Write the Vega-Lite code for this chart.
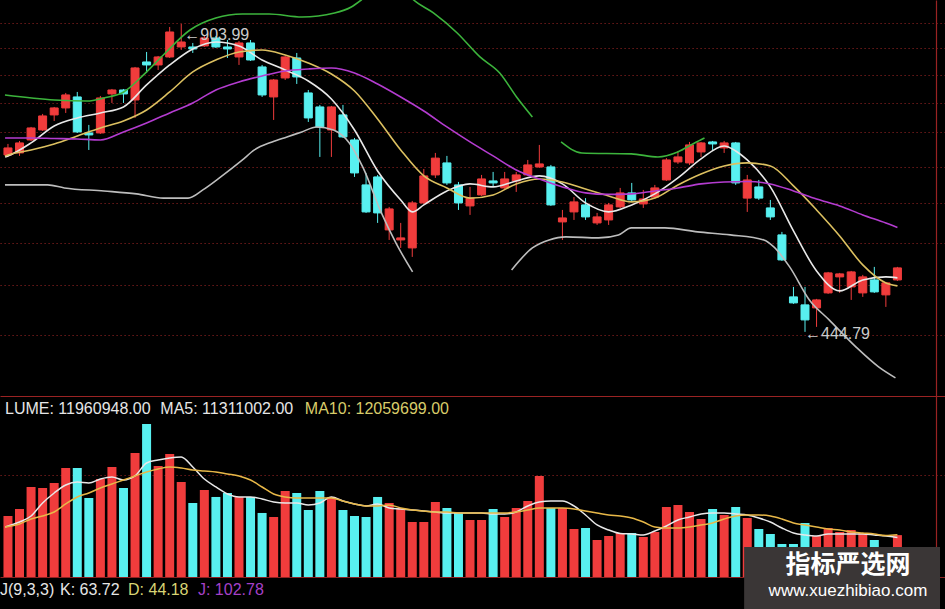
{
  "$schema": "https://vega.github.io/schema/vega-lite/v6.json",
  "background": "#000000",
  "padding": 0,
  "spacing": 0,
  "bounds": "flush",
  "config": {
    "view": {"stroke": null},
    "axis": {"labels": false, "ticks": false, "domain": false, "grid": false, "titleColor": "#000000", "titleFontSize": 1},
    "text": {"font": "Liberation Sans"}
  },
  "resolve": {"scale": {"x": "independent", "y": "independent", "color": "independent"}},
  "datasets": {
    "k": [
      {"i":0,"o":668.55,"h":685.69,"l":665.47,"c":679.39,"v":17430000},
      {"i":1,"o":671.62,"h":690.42,"l":667.01,"c":687.27,"v":19430000},
      {"i":2,"o":691.99,"h":713.06,"l":690.42,"c":711.41,"v":25710000},
      {"i":3,"o":708.11,"h":734.73,"l":706.5,"c":731.35,"v":25430000},
      {"i":4,"o":733.04,"h":746.66,"l":722.95,"c":744.93,"v":26860000},
      {"i":5,"o":744.93,"h":771.12,"l":736.42,"c":767.59,"v":31140000},
      {"i":6,"o":764.05,"h":772.89,"l":703.27,"c":704.89,"v":31140000},
      {"i":7,"o":703.27,"h":716.36,"l":676.24,"c":700.05,"v":22570000},
      {"i":8,"o":703.27,"h":765.82,"l":701.66,"c":762.28,"v":28000000},
      {"i":9,"o":769.35,"h":778.23,"l":753.57,"c":776.42,"v":31430000},
      {"i":10,"o":776.42,"h":778.23,"l":753.57,"c":769.35,"v":25430000},
      {"i":11,"o":758.75,"h":818.7,"l":727.98,"c":816.8,"v":35430000},
      {"i":12,"o":828.16,"h":847.45,"l":807.46,"c":822.48,"v":43710000},
      {"i":13,"o":822.48,"h":839.7,"l":813.01,"c":837.76,"v":31710000},
      {"i":14,"o":837.76,"h":897.68,"l":835.83,"c":887.39,"v":35140000},
      {"i":15,"o":857.28,"h":903.99,"l":851.33,"c":867.19,"v":27140000},
      {"i":16,"o":857.28,"h":865.21,"l":845.52,"c":853.31,"v":21140000},
      {"i":17,"o":859.26,"h":879.27,"l":857.28,"c":875.22,"v":24860000},
      {"i":18,"o":875.22,"h":879.27,"l":855.29,"c":857.28,"v":22860000},
      {"i":19,"o":857.28,"h":871.16,"l":835.83,"c":853.31,"v":24000000},
      {"i":20,"o":837.76,"h":869.18,"l":822.48,"c":865.21,"v":22860000},
      {"i":21,"o":865.21,"h":871.16,"l":830.06,"c":831.95,"v":22860000},
      {"i":22,"o":818.7,"h":822.48,"l":764.05,"c":767.59,"v":18290000},
      {"i":23,"o":764.05,"h":796.36,"l":724.6,"c":794.51,"v":17140000},
      {"i":24,"o":798.21,"h":839.7,"l":794.51,"c":837.76,"v":24570000},
      {"i":25,"o":835.83,"h":845.52,"l":787.27,"c":800.06,"v":24000000},
      {"i":26,"o":771.12,"h":776.42,"l":721.3,"c":727.98,"v":19140000},
      {"i":27,"o":746.66,"h":750.11,"l":665.47,"c":713.06,"v":24570000},
      {"i":28,"o":708.11,"h":748.39,"l":665.47,"c":746.66,"v":22860000},
      {"i":29,"o":733.04,"h":750.11,"l":695.21,"c":696.83,"v":19140000},
      {"i":30,"o":691.99,"h":695.21,"l":635.51,"c":641.39,"v":17430000},
      {"i":31,"o":623.92,"h":641.39,"l":584.96,"c":586.3,"v":17140000},
      {"i":32,"o":635.51,"h":638.45,"l":571.64,"c":584.96,"v":22860000},
      {"i":33,"o":562.47,"h":593.1,"l":549.67,"c":590.35,"v":21140000},
      {"i":34,"o":549.67,"h":571.64,"l":539.66,"c":552.23,"v":19710000},
      {"i":35,"o":539.66,"h":601.33,"l":528.6,"c":598.58,"v":15710000},
      {"i":36,"o":598.58,"h":647.31,"l":597.21,"c":636.98,"v":15710000},
      {"i":37,"o":638.45,"h":671.62,"l":634.04,"c":663.64,"v":21430000},
      {"i":38,"o":656.34,"h":667.01,"l":623.92,"c":626.79,"v":19710000},
      {"i":39,"o":623.92,"h":628.23,"l":588.98,"c":598.58,"v":18290000},
      {"i":40,"o":594.47,"h":621.05,"l":582.27,"c":605.25,"v":16290000},
      {"i":41,"o":609.72,"h":638.45,"l":608.32,"c":632.57,"v":16290000},
      {"i":42,"o":629.66,"h":642.86,"l":621.05,"c":626.79,"v":19430000},
      {"i":43,"o":619.61,"h":642.86,"l":618.17,"c":632.57,"v":17140000},
      {"i":44,"o":629.66,"h":642.86,"l":613.93,"c":638.45,"v":19710000},
      {"i":45,"o":638.45,"h":660.85,"l":636.98,"c":653.32,"v":21710000},
      {"i":46,"o":650.32,"h":684.12,"l":648.81,"c":654.83,"v":28860000},
      {"i":47,"o":650.32,"h":653.32,"l":594.47,"c":595.84,"v":19710000},
      {"i":48,"o":572.95,"h":588.98,"l":549.67,"c":578.25,"v":19710000},
      {"i":49,"o":586.3,"h":606.67,"l":575.57,"c":599.96,"v":13710000},
      {"i":50,"o":595.84,"h":605.25,"l":575.57,"c":579.59,"v":14000000},
      {"i":51,"o":571.64,"h":584.96,"l":569.02,"c":579.59,"v":10570000},
      {"i":52,"o":575.57,"h":598.58,"l":569.02,"c":595.84,"v":11710000},
      {"i":53,"o":593.1,"h":619.61,"l":591.72,"c":612.53,"v":12570000},
      {"i":54,"o":612.53,"h":626.79,"l":599.96,"c":602.7,"v":12570000},
      {"i":55,"o":597.21,"h":616.74,"l":591.72,"c":604.08,"v":11430000},
      {"i":56,"o":606.67,"h":623.92,"l":604.08,"c":619.61,"v":12860000},
      {"i":57,"o":631.1,"h":663.64,"l":629.66,"c":660.85,"v":20000000},
      {"i":58,"o":657.84,"h":674.7,"l":654.83,"c":665.47,"v":20570000},
      {"i":59,"o":656.34,"h":688.84,"l":653.32,"c":684.12,"v":18570000},
      {"i":60,"o":673.16,"h":688.84,"l":665.47,"c":687.27,"v":16570000},
      {"i":61,"o":688.84,"h":690.42,"l":676.24,"c":685.69,"v":19430000},
      {"i":62,"o":679.39,"h":690.42,"l":671.62,"c":687.27,"v":17710000},
      {"i":63,"o":687.27,"h":688.84,"l":623.92,"c":626.79,"v":20000000},
      {"i":64,"o":605.25,"h":638.45,"l":586.3,"c":631.1,"v":16860000},
      {"i":65,"o":621.05,"h":631.1,"l":602.7,"c":605.25,"v":13710000},
      {"i":66,"o":591.72,"h":602.7,"l":575.57,"c":579.59,"v":12290000},
      {"i":67,"o":556.07,"h":559.91,"l":523.74,"c":524.93,"v":9430000},
      {"i":68,"o":482.09,"h":493.31,"l":474.38,"c":475.47,"v":9430000},
      {"i":69,"o":473.29,"h":493.31,"l":444.79,"c":457.19,"v":15430000},
      {"i":70,"o":470.02,"h":479.86,"l":449.91,"c":478.74,"v":11710000},
      {"i":71,"o":486.55,"h":510.64,"l":485.43,"c":509.48,"v":14000000},
      {"i":72,"o":504.8,"h":509.48,"l":486.55,"c":508.31,"v":12860000},
      {"i":73,"o":493.31,"h":511.81,"l":478.74,"c":510.64,"v":13430000},
      {"i":74,"o":486.55,"h":507.14,"l":482.09,"c":504.8,"v":12570000},
      {"i":75,"o":501.3,"h":516.57,"l":486.55,"c":487.66,"v":10570000},
      {"i":76,"o":484.32,"h":499.02,"l":471.11,"c":497.88,"v":7710000},
      {"i":77,"o":501.3,"h":516.57,"l":500.16,"c":515.37,"v":11960948}
    ],
    "pl": [
      {"s":"MA5","g":"a","i":-0.25,"p":665.47},{"s":"MA5","g":"a","i":0,"p":667.01},{"s":"MA5","g":"a","i":2,"p":687.27},{"s":"MA5","g":"a","i":4,"p":714.71},{"s":"MA5","g":"a","i":6,"p":727.98},{"s":"MA5","g":"a","i":8,"p":736.42},{"s":"MA5","g":"a","i":10,"p":746.66},{"s":"MA5","g":"a","i":12,"p":785.47},{"s":"MA5","g":"a","i":14,"p":822.48},{"s":"MA5","g":"a","i":16,"p":853.31},{"s":"MA5","g":"a","i":18,"p":867.19},{"s":"MA5","g":"a","i":20,"p":859.26},{"s":"MA5","g":"a","i":22,"p":831.95},{"s":"MA5","g":"a","i":24,"p":813.01},{"s":"MA5","g":"a","i":26,"p":792.7},{"s":"MA5","g":"a","i":28,"p":760.52},{"s":"MA5","g":"a","i":30,"p":708.11},{"s":"MA5","g":"a","i":32,"p":644.33},{"s":"MA5","g":"a","i":34,"p":602.7},{"s":"MA5","g":"a","i":35,"p":586.3},{"s":"MA5","g":"a","i":36,"p":595.84},{"s":"MA5","g":"a","i":38,"p":615.34},{"s":"MA5","g":"a","i":40,"p":625.36},{"s":"MA5","g":"a","i":42,"p":621.05},{"s":"MA5","g":"a","i":44,"p":629.66},{"s":"MA5","g":"a","i":46,"p":636.98},{"s":"MA5","g":"a","i":48,"p":625.36},{"s":"MA5","g":"a","i":50,"p":598.58},{"s":"MA5","g":"a","i":52,"p":586.3},{"s":"MA5","g":"a","i":54,"p":595.84},{"s":"MA5","g":"a","i":56,"p":611.12},{"s":"MA5","g":"a","i":58,"p":634.04},{"s":"MA5","g":"a","i":60,"p":662.39},{"s":"MA5","g":"a","i":62,"p":682.54},{"s":"MA5","g":"a","i":63,"p":674.7},{"s":"MA5","g":"a","i":64,"p":660.85},{"s":"MA5","g":"a","i":66,"p":621.05},{"s":"MA5","g":"a","i":68,"p":561.19},{"s":"MA5","g":"a","i":70,"p":511.81},{"s":"MA5","g":"a","i":72,"p":488.78},{"s":"MA5","g":"a","i":74,"p":501.3},{"s":"MA5","g":"a","i":76,"p":504.8},{"s":"MA5","g":"a","i":77,"p":503.63},
      {"s":"MA10","g":"b","i":-0.25,"p":667.01},{"s":"MA10","g":"b","i":0,"p":668.55},{"s":"MA10","g":"b","i":2,"p":676.24},{"s":"MA10","g":"b","i":4,"p":685.69},{"s":"MA10","g":"b","i":6,"p":698.44},{"s":"MA10","g":"b","i":8,"p":711.41},{"s":"MA10","g":"b","i":10,"p":722.95},{"s":"MA10","g":"b","i":12,"p":741.48},{"s":"MA10","g":"b","i":14,"p":772.89},{"s":"MA10","g":"b","i":16,"p":809.31},{"s":"MA10","g":"b","i":18,"p":831.95},{"s":"MA10","g":"b","i":20,"p":847.45},{"s":"MA10","g":"b","i":22,"p":851.33},{"s":"MA10","g":"b","i":24,"p":841.64},{"s":"MA10","g":"b","i":26,"p":826.27},{"s":"MA10","g":"b","i":28,"p":805.61},{"s":"MA10","g":"b","i":30,"p":774.65},{"s":"MA10","g":"b","i":32,"p":726.29},{"s":"MA10","g":"b","i":34,"p":676.24},{"s":"MA10","g":"b","i":36,"p":636.98},{"s":"MA10","g":"b","i":38,"p":619.61},{"s":"MA10","g":"b","i":40,"p":605.25},{"s":"MA10","g":"b","i":42,"p":609.72},{"s":"MA10","g":"b","i":44,"p":625.36},{"s":"MA10","g":"b","i":46,"p":632.57},{"s":"MA10","g":"b","i":48,"p":628.23},{"s":"MA10","g":"b","i":50,"p":618.17},{"s":"MA10","g":"b","i":52,"p":608.32},{"s":"MA10","g":"b","i":54,"p":599.96},{"s":"MA10","g":"b","i":56,"p":605.25},{"s":"MA10","g":"b","i":58,"p":623.92},{"s":"MA10","g":"b","i":60,"p":639.92},{"s":"MA10","g":"b","i":62,"p":651.82},{"s":"MA10","g":"b","i":64,"p":656.34},{"s":"MA10","g":"b","i":66,"p":651.82},{"s":"MA10","g":"b","i":68,"p":622.49},{"s":"MA10","g":"b","i":70,"p":588.98},{"s":"MA10","g":"b","i":72,"p":554.79},{"s":"MA10","g":"b","i":74,"p":518.95},{"s":"MA10","g":"b","i":76,"p":497.88},{"s":"MA10","g":"b","i":77,"p":494.45},
      {"s":"MID","g":"c","i":-0.25,"p":695.21},{"s":"MID","g":"c","i":2,"p":695.21},{"s":"MID","g":"c","i":4,"p":694.4},{"s":"MID","g":"c","i":6,"p":693.6},{"s":"MID","g":"c","i":8,"p":691.99},{"s":"MID","g":"c","i":10,"p":704.89},{"s":"MID","g":"c","i":12,"p":719.65},{"s":"MID","g":"c","i":14,"p":736.42},{"s":"MID","g":"c","i":16,"p":753.57},{"s":"MID","g":"c","i":18,"p":776.42},{"s":"MID","g":"c","i":20,"p":790.89},{"s":"MID","g":"c","i":22,"p":801.91},{"s":"MID","g":"c","i":24,"p":811.16},{"s":"MID","g":"c","i":26,"p":814.86},{"s":"MID","g":"c","i":28,"p":816.8},{"s":"MID","g":"c","i":30,"p":807.46},{"s":"MID","g":"c","i":32,"p":787.27},{"s":"MID","g":"c","i":34,"p":764.05},{"s":"MID","g":"c","i":36,"p":739.79},{"s":"MID","g":"c","i":38,"p":713.06},{"s":"MID","g":"c","i":40,"p":688.84},{"s":"MID","g":"c","i":42,"p":667.01},{"s":"MID","g":"c","i":44,"p":645.8},{"s":"MID","g":"c","i":46,"p":632.57},{"s":"MID","g":"c","i":48,"p":621.05},{"s":"MID","g":"c","i":50,"p":612.53},{"s":"MID","g":"c","i":52,"p":610.41},{"s":"MID","g":"c","i":54,"p":611.12},{"s":"MID","g":"c","i":56,"p":615.34},{"s":"MID","g":"c","i":58,"p":619.61},{"s":"MID","g":"c","i":60,"p":625.36},{"s":"MID","g":"c","i":62,"p":628.23},{"s":"MID","g":"c","i":64,"p":628.94},{"s":"MID","g":"c","i":66,"p":625.36},{"s":"MID","g":"c","i":68,"p":615.34},{"s":"MID","g":"c","i":70,"p":604.08},{"s":"MID","g":"c","i":72,"p":594.47},{"s":"MID","g":"c","i":74,"p":582.27},{"s":"MID","g":"c","i":76,"p":571.64},{"s":"MID","g":"c","i":77,"p":565.75},
      {"s":"UP","g":"u1","i":-0.26,"p":767.59},{"s":"UP","g":"u1","i":4.03,"p":758.75},{"s":"UP","g":"u1","i":6.85,"p":757.02},{"s":"UP","g":"u1","i":8.31,"p":762.28},{"s":"UP","g":"u1","i":10.02,"p":772.89},{"s":"UP","g":"u1","i":11.73,"p":803.76},{"s":"UP","g":"u1","i":13.45,"p":841.64},{"s":"UP","g":"u1","i":15.76,"p":891.45},{"s":"UP","g":"u1","i":17.99,"p":916.46},{"s":"UP","g":"u1","i":20.3,"p":924.96},{"s":"UP","g":"u1","i":22.61,"p":924.96},{"s":"UP","g":"u1","i":25.44,"p":918.59},{"s":"UP","g":"u1","i":28.27,"p":927.09},{"s":"UP","g":"u1","i":29.72,"p":939.98},{"s":"UP","g":"u1","i":30.58,"p":955.2},{"s":"UP","g":"u1","i":31.43,"p":972.96},
      {"s":"UP","g":"u2","i":34.43,"p":972.96},{"s":"UP","g":"u2","i":35.12,"p":955.2},{"s":"UP","g":"u2","i":36.83,"p":927.09},{"s":"UP","g":"u2","i":38.89,"p":885.36},{"s":"UP","g":"u2","i":40.86,"p":837.76},{"s":"UP","g":"u2","i":42.57,"p":807.46},{"s":"UP","g":"u2","i":44.03,"p":764.05},{"s":"UP","g":"u2","i":45.4,"p":729.66},
      {"s":"UP","g":"u3","i":47.88,"p":688.84},{"s":"UP","g":"u3","i":49.68,"p":671.62},{"s":"UP","g":"u3","i":53.96,"p":670.09},{"s":"UP","g":"u3","i":56.27,"p":665.47},{"s":"UP","g":"u3","i":57.98,"p":673.16},{"s":"UP","g":"u3","i":59.44,"p":687.27},{"s":"UP","g":"u3","i":60.3,"p":695.21},
      {"s":"LO","g":"l1","i":-0.26,"p":623.92},{"s":"LO","g":"l1","i":3.43,"p":623.92},{"s":"LO","g":"l1","i":4.88,"p":619.61},{"s":"LO","g":"l1","i":8.31,"p":615.34},{"s":"LO","g":"l1","i":11.13,"p":611.12},{"s":"LO","g":"l1","i":13.45,"p":605.25},{"s":"LO","g":"l1","i":15.59,"p":605.25},{"s":"LO","g":"l1","i":16.87,"p":616.74},{"s":"LO","g":"l1","i":18.42,"p":635.51},{"s":"LO","g":"l1","i":20.3,"p":660.85},{"s":"LO","g":"l1","i":21.33,"p":676.24},{"s":"LO","g":"l1","i":22.87,"p":688.84},{"s":"LO","g":"l1","i":24.15,"p":696.83},{"s":"LO","g":"l1","i":25.44,"p":704.89},{"s":"LO","g":"l1","i":26.72,"p":713.06},{"s":"LO","g":"l1","i":28.18,"p":708.11},{"s":"LO","g":"l1","i":29.55,"p":687.27},{"s":"LO","g":"l1","i":30.75,"p":648.81},{"s":"LO","g":"l1","i":32.29,"p":586.3},{"s":"LO","g":"l1","i":33.58,"p":545.92},{"s":"LO","g":"l1","i":35.03,"p":510.64},
      {"s":"LO","g":"l2","i":43.6,"p":512.98},{"s":"LO","g":"l2","i":45.4,"p":539.66},{"s":"LO","g":"l2","i":46.85,"p":549.67},{"s":"LO","g":"l2","i":48.31,"p":553.51},{"s":"LO","g":"l2","i":51.13,"p":552.23},{"s":"LO","g":"l2","i":52.85,"p":556.07},{"s":"LO","g":"l2","i":53.96,"p":565.09},{"s":"LO","g":"l2","i":56.87,"p":565.09},{"s":"LO","g":"l2","i":59.7,"p":559.91},{"s":"LO","g":"l2","i":62.53,"p":556.07},{"s":"LO","g":"l2","i":65.44,"p":549.67},{"s":"LO","g":"l2","i":66.3,"p":540.91},{"s":"LO","g":"l2","i":67.67,"p":516.57},{"s":"LO","g":"l2","i":69.38,"p":478.74},{"s":"LO","g":"l2","i":71.09,"p":457.19},{"s":"LO","g":"l2","i":73.4,"p":429.66},{"s":"LO","g":"l2","i":75.37,"p":410.33},{"s":"LO","g":"l2","i":76.83,"p":400.06}
    ],
    "vm": [
      {"s":"VMA5","i":-0.25,"v":14290000},{"s":"VMA5","i":1,"v":15710000},{"s":"VMA5","i":2,"v":17430000},{"s":"VMA5","i":3,"v":21140000},{"s":"VMA5","i":4,"v":24000000},{"s":"VMA5","i":5,"v":26290000},{"s":"VMA5","i":6,"v":27140000},{"s":"VMA5","i":7,"v":26860000},{"s":"VMA5","i":8,"v":28000000},{"s":"VMA5","i":9,"v":28570000},{"s":"VMA5","i":10,"v":27710000},{"s":"VMA5","i":11,"v":28860000},{"s":"VMA5","i":12,"v":32570000},{"s":"VMA5","i":13,"v":33430000},{"s":"VMA5","i":14,"v":34000000},{"s":"VMA5","i":15,"v":34290000},{"s":"VMA5","i":16,"v":31430000},{"s":"VMA5","i":17,"v":28000000},{"s":"VMA5","i":18,"v":25710000},{"s":"VMA5","i":19,"v":23710000},{"s":"VMA5","i":20,"v":22860000},{"s":"VMA5","i":21,"v":22860000},{"s":"VMA5","i":22,"v":22290000},{"s":"VMA5","i":23,"v":21430000},{"s":"VMA5","i":24,"v":21140000},{"s":"VMA5","i":25,"v":21140000},{"s":"VMA5","i":26,"v":20570000},{"s":"VMA5","i":27,"v":21140000},{"s":"VMA5","i":28,"v":22860000},{"s":"VMA5","i":29,"v":21710000},{"s":"VMA5","i":30,"v":20860000},{"s":"VMA5","i":31,"v":20290000},{"s":"VMA5","i":32,"v":20860000},{"s":"VMA5","i":33,"v":19710000},{"s":"VMA5","i":34,"v":19430000},{"s":"VMA5","i":35,"v":19140000},{"s":"VMA5","i":36,"v":18860000},{"s":"VMA5","i":37,"v":18570000},{"s":"VMA5","i":38,"v":18290000},{"s":"VMA5","i":39,"v":18290000},{"s":"VMA5","i":40,"v":18290000},{"s":"VMA5","i":41,"v":18290000},{"s":"VMA5","i":42,"v":18000000},{"s":"VMA5","i":43,"v":18000000},{"s":"VMA5","i":44,"v":18570000},{"s":"VMA5","i":45,"v":20290000},{"s":"VMA5","i":46,"v":21430000},{"s":"VMA5","i":47,"v":21710000},{"s":"VMA5","i":48,"v":21710000},{"s":"VMA5","i":49,"v":20290000},{"s":"VMA5","i":50,"v":17710000},{"s":"VMA5","i":51,"v":14860000},{"s":"VMA5","i":52,"v":13430000},{"s":"VMA5","i":53,"v":12430000},{"s":"VMA5","i":54,"v":12290000},{"s":"VMA5","i":55,"v":12000000},{"s":"VMA5","i":56,"v":13140000},{"s":"VMA5","i":57,"v":14570000},{"s":"VMA5","i":58,"v":16290000},{"s":"VMA5","i":59,"v":17140000},{"s":"VMA5","i":60,"v":18000000},{"s":"VMA5","i":61,"v":18290000},{"s":"VMA5","i":62,"v":18290000},{"s":"VMA5","i":63,"v":18000000},{"s":"VMA5","i":64,"v":17710000},{"s":"VMA5","i":65,"v":16860000},{"s":"VMA5","i":66,"v":15710000},{"s":"VMA5","i":67,"v":14000000},{"s":"VMA5","i":68,"v":12570000},{"s":"VMA5","i":69,"v":12000000},{"s":"VMA5","i":70,"v":11710000},{"s":"VMA5","i":71,"v":12290000},{"s":"VMA5","i":72,"v":12290000},{"s":"VMA5","i":73,"v":12290000},{"s":"VMA5","i":74,"v":12290000},{"s":"VMA5","i":75,"v":12000000},{"s":"VMA5","i":76,"v":11710000},{"s":"VMA5","i":77,"v":11311002},
      {"s":"VMA10","i":-0.25,"v":14290000},{"s":"VMA10","i":1,"v":15140000},{"s":"VMA10","i":2,"v":16570000},{"s":"VMA10","i":3,"v":17430000},{"s":"VMA10","i":4,"v":18570000},{"s":"VMA10","i":5,"v":20860000},{"s":"VMA10","i":6,"v":22860000},{"s":"VMA10","i":7,"v":24000000},{"s":"VMA10","i":8,"v":25430000},{"s":"VMA10","i":9,"v":26570000},{"s":"VMA10","i":10,"v":27710000},{"s":"VMA10","i":11,"v":28860000},{"s":"VMA10","i":12,"v":30000000},{"s":"VMA10","i":13,"v":30860000},{"s":"VMA10","i":14,"v":31430000},{"s":"VMA10","i":15,"v":31140000},{"s":"VMA10","i":16,"v":30570000},{"s":"VMA10","i":17,"v":30290000},{"s":"VMA10","i":18,"v":30000000},{"s":"VMA10","i":19,"v":29430000},{"s":"VMA10","i":20,"v":28860000},{"s":"VMA10","i":21,"v":27710000},{"s":"VMA10","i":22,"v":25710000},{"s":"VMA10","i":23,"v":23710000},{"s":"VMA10","i":24,"v":22860000},{"s":"VMA10","i":25,"v":22570000},{"s":"VMA10","i":26,"v":22570000},{"s":"VMA10","i":27,"v":22570000},{"s":"VMA10","i":28,"v":22570000},{"s":"VMA10","i":29,"v":21710000},{"s":"VMA10","i":30,"v":20860000},{"s":"VMA10","i":31,"v":20290000},{"s":"VMA10","i":32,"v":20290000},{"s":"VMA10","i":33,"v":20570000},{"s":"VMA10","i":34,"v":19710000},{"s":"VMA10","i":35,"v":19140000},{"s":"VMA10","i":36,"v":18860000},{"s":"VMA10","i":37,"v":18570000},{"s":"VMA10","i":38,"v":18570000},{"s":"VMA10","i":39,"v":18290000},{"s":"VMA10","i":40,"v":18290000},{"s":"VMA10","i":41,"v":18290000},{"s":"VMA10","i":42,"v":18290000},{"s":"VMA10","i":43,"v":18290000},{"s":"VMA10","i":44,"v":18570000},{"s":"VMA10","i":45,"v":19140000},{"s":"VMA10","i":46,"v":19710000},{"s":"VMA10","i":47,"v":19710000},{"s":"VMA10","i":48,"v":19710000},{"s":"VMA10","i":49,"v":19430000},{"s":"VMA10","i":50,"v":18860000},{"s":"VMA10","i":51,"v":18290000},{"s":"VMA10","i":52,"v":17710000},{"s":"VMA10","i":53,"v":17430000},{"s":"VMA10","i":54,"v":16860000},{"s":"VMA10","i":55,"v":15710000},{"s":"VMA10","i":56,"v":14290000},{"s":"VMA10","i":57,"v":14000000},{"s":"VMA10","i":58,"v":14000000},{"s":"VMA10","i":59,"v":14290000},{"s":"VMA10","i":60,"v":14860000},{"s":"VMA10","i":61,"v":15430000},{"s":"VMA10","i":62,"v":16570000},{"s":"VMA10","i":63,"v":17430000},{"s":"VMA10","i":64,"v":17710000},{"s":"VMA10","i":65,"v":17710000},{"s":"VMA10","i":66,"v":17430000},{"s":"VMA10","i":67,"v":16570000},{"s":"VMA10","i":68,"v":15430000},{"s":"VMA10","i":69,"v":14860000},{"s":"VMA10","i":70,"v":14290000},{"s":"VMA10","i":71,"v":13710000},{"s":"VMA10","i":72,"v":13430000},{"s":"VMA10","i":73,"v":12860000},{"s":"VMA10","i":74,"v":12570000},{"s":"VMA10","i":75,"v":12290000},{"s":"VMA10","i":76,"v":11860000},{"s":"VMA10","i":77,"v":12059699}
    ]
  },
  "vconcat": [
    {
      "width": 945,
      "height": 396,
      "layer": [
        {
          "data": {"name": "k"},
          "mark": {"type": "rule", "strokeWidth": 1},
          "encoding": {
            "x": {"field": "i", "type": "quantitative", "scale": {"domain": [-0.257, 80.686], "nice": false, "zero": false},
                  "axis": {"title": null, "values": [80.34], "grid": true, "gridColor": "#9a2323", "gridWidth": 1.2, "labels": false, "ticks": false, "domain": true, "domainColor": "#9a2323", "domainWidth": 1.2}},
            "y": {"field": "l", "type": "quantitative", "scale": {"type": "log", "domain": [383.7, 955.2], "nice": false, "zero": false},
                  "axis": {"title": null, "values": [905.98, 855.3, 803.76, 753.57, 704.89, 650.32, 598.58, 545.92, 495.6, 441.71], "grid": true, "gridColor": "#8a2020", "gridDash": [1.2, 2.8], "gridWidth": 1, "labels": false, "ticks": false, "domain": false}},
            "y2": {"field": "h"},
            "color": {"condition": {"test": "datum.c >= datum.o", "value": "#f03c3c"}, "value": "#58f0f0"}
          }
        },
        {
          "data": {"name": "k"},
          "mark": {"type": "bar", "width": 8, "orient": "vertical", "strokeWidth": 1},
          "encoding": {
            "x": {"field": "i", "type": "quantitative"},
            "y": {"field": "o", "type": "quantitative"},
            "y2": {"field": "c"},
            "fill": {"condition": {"test": "datum.c >= datum.o", "value": "#f03c3c"}, "value": "#58f0f0"},
            "stroke": {"condition": {"test": "datum.c >= datum.o", "value": "#f03c3c"}, "value": "#58f0f0"}
          }
        },
        {
          "data": {"name": "pl"},
          "mark": {"type": "line", "strokeWidth": 1.6, "interpolate": "monotone", "clip": true},
          "encoding": {
            "x": {"field": "i", "type": "quantitative"},
            "y": {"field": "p", "type": "quantitative"},
            "detail": {"field": "g", "type": "nominal"},
            "strokeWidth": {"condition": {"test": "datum.s === 'MID'", "value": 2.2}, "value": 1.6},
            "color": {"field": "s", "type": "nominal", "legend": null,
                      "scale": {"domain": ["MA5", "MA10", "MID", "UP", "LO"], "range": ["#e8e8e8", "#dcc060", "#b43cd0", "#3cb43c", "#bdbdbd"]}}
          }
        },
        {
          "data": {"values": [{"i": 15, "p": 903.99, "t": "←903.99"}]},
          "mark": {"type": "text", "align": "left", "baseline": "middle", "fontSize": 16, "color": "#cccccc", "dx": 3, "dy": 11},
          "encoding": {
            "x": {"field": "i", "type": "quantitative"},
            "y": {"field": "p", "type": "quantitative"},
            "text": {"field": "t"}
          }
        },
        {
          "data": {"values": [{"i": 69, "p": 444.79, "t": "←444.79"}]},
          "mark": {"type": "text", "align": "left", "baseline": "middle", "fontSize": 16, "color": "#cccccc", "dx": 0, "dy": 2},
          "encoding": {
            "x": {"field": "i", "type": "quantitative"},
            "y": {"field": "p", "type": "quantitative"},
            "text": {"field": "t"}
          }
        }
      ]
    },
    {
      "width": 945,
      "height": 181,
      "layer": [
        {
          "data": {"name": "k"},
          "mark": {"type": "bar", "width": 9, "orient": "vertical"},
          "encoding": {
            "x": {"field": "i", "type": "quantitative", "scale": {"domain": [-0.257, 80.686], "nice": false, "zero": false},
                  "axis": {"title": null, "values": [80.34], "grid": true, "gridColor": "#9a2323", "gridWidth": 1.2, "labels": false, "ticks": false, "domain": true, "domainColor": "#8e2222", "domainWidth": 1}},
            "y": {"field": "v", "type": "quantitative", "scale": {"domain": [0, 51700000], "nice": false, "zero": true},
                  "axis": {"title": null, "values": [29140000], "grid": true, "gridColor": "#8a2020", "gridDash": [1.2, 2.8], "gridWidth": 1, "labels": false, "ticks": false, "domain": false}},
            "y2": {"datum": 0},
            "fill": {"condition": {"test": "datum.c >= datum.o", "value": "#f03c3c"}, "value": "#58f0f0"}
          }
        },
        {
          "data": {"name": "vm"},
          "mark": {"type": "line", "strokeWidth": 1.5, "interpolate": "monotone"},
          "encoding": {
            "x": {"field": "i", "type": "quantitative"},
            "y": {"field": "v", "type": "quantitative"},
            "color": {"field": "s", "type": "nominal", "legend": null,
                      "scale": {"domain": ["VMA5", "VMA10"], "range": ["#e8e8e8", "#e8b848"]}}
          }
        },
        {
          "data": {"values": [{}]},
          "mark": {"type": "text", "align": "left", "baseline": "middle", "fontSize": 16, "color": "#e6e6e6", "text": "LUME: 11960948.00"},
          "encoding": {"x": {"datum": -0.257, "type": "quantitative"}, "y": {"datum": 48000000, "type": "quantitative"}}
        },
        {
          "data": {"values": [{}]},
          "mark": {"type": "text", "align": "left", "baseline": "middle", "fontSize": 16, "color": "#e6e6e6", "text": "MA5: 11311002.00"},
          "encoding": {"x": {"datum": 13.19, "type": "quantitative"}, "y": {"datum": 48000000, "type": "quantitative"}}
        },
        {
          "data": {"values": [{}]},
          "mark": {"type": "text", "align": "left", "baseline": "middle", "fontSize": 16, "color": "#d8cc6a", "text": "MA10: 12059699.00"},
          "encoding": {"x": {"datum": 25.7, "type": "quantitative"}, "y": {"datum": 48000000, "type": "quantitative"}}
        },
        {
          "data": {"values": [{}]},
          "mark": {"type": "rect", "color": "#3a3636", "clip": false},
          "encoding": {
            "x": {"datum": 63.73, "type": "quantitative"}, "x2": {"datum": 80.686},
            "y": {"datum": 8570000, "type": "quantitative"}, "y2": {"datum": -9300000}
          }
        },
        {
          "data": {"values": [{}]},
          "mark": {"type": "text", "align": "center", "baseline": "middle", "fontSize": 25, "fontWeight": "bold", "font": "Noto Sans CJK SC", "color": "#ffffff", "text": "指标严选网"},
          "encoding": {"x": {"datum": 72.72, "type": "quantitative"}, "y": {"datum": 3430000, "type": "quantitative"}}
        },
        {
          "data": {"values": [{}]},
          "mark": {"type": "text", "align": "center", "baseline": "middle", "fontSize": 17, "color": "#ffffff", "text": "www.xuezhibiao.com"},
          "encoding": {"x": {"datum": 72.72, "type": "quantitative"}, "y": {"datum": -4000000, "type": "quantitative"}}
        }
      ]
    },
    {
      "width": 945,
      "height": 32,
      "layer": [
        {
          "data": {"values": [{}]},
          "mark": {"type": "text", "align": "left", "baseline": "middle", "fontSize": 16, "color": "#e6e6e6", "text": "J(9,3,3)"},
          "encoding": {
            "x": {"datum": -0.257, "type": "quantitative", "scale": {"domain": [-0.257, 80.686], "nice": false, "zero": false}, "axis": null},
            "y": {"datum": 19, "type": "quantitative", "scale": {"domain": [0, 32], "nice": false, "zero": false}, "axis": null}
          }
        },
        {
          "data": {"values": [{}]},
          "mark": {"type": "text", "align": "left", "baseline": "middle", "fontSize": 16, "color": "#e6e6e6", "text": "K: 63.72"},
          "encoding": {"x": {"datum": 4.88, "type": "quantitative"}, "y": {"datum": 19, "type": "quantitative"}}
        },
        {
          "data": {"values": [{}]},
          "mark": {"type": "text", "align": "left", "baseline": "middle", "fontSize": 16, "color": "#d8d474", "text": "D: 44.18"},
          "encoding": {"x": {"datum": 10.71, "type": "quantitative"}, "y": {"datum": 19, "type": "quantitative"}}
        },
        {
          "data": {"values": [{}]},
          "mark": {"type": "text", "align": "left", "baseline": "middle", "fontSize": 16, "color": "#a640c8", "text": "J: 102.78"},
          "encoding": {"x": {"datum": 16.7, "type": "quantitative"}, "y": {"datum": 19, "type": "quantitative"}}
        }
      ]
    }
  ]
}
